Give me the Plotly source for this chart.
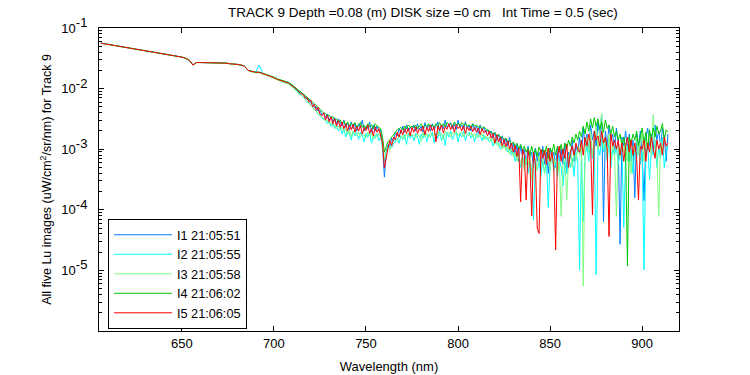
import plotly.graph_objects as go

# Wavelength grids (nm)
wl_head = list(range(606, 688, 2))                          # 606..686, shared smooth part
wl_body = list(range(688, 716, 2)) + list(range(716, 915))  # 688..714 (2 nm), 716..914 (1 nm)

# log10(Lu) where the five images overlap (606..686 nm)
lu_head_log10 = [-1.25, -1.26, -1.27, -1.28, -1.30, -1.31, -1.32, -1.33, -1.34, -1.35,
                 -1.36, -1.37, -1.38, -1.38, -1.39, -1.40, -1.42, -1.43, -1.44, -1.45,
                 -1.46, -1.47, -1.48, -1.50, -1.53, -1.61, -1.57, -1.57, -1.57, -1.57,
                 -1.575, -1.58, -1.58, -1.58, -1.58, -1.59, -1.59, -1.60, -1.61, -1.63,
                 -1.70]

# log10(Lu) per image on wl_body
i1_log10 = [-1.72, -1.73, -1.73, -1.75, -1.77, -1.79, -1.82, -1.85, -1.87, -1.89, -1.90, -1.95, -2.01, -2.05,
            -2.09, -2.13, -2.18, -2.18, -2.24, -2.25, -2.31, -2.30, -2.37, -2.36,
            -2.43, -2.41, -2.48, -2.42, -2.52, -2.46, -2.55, -2.48, -2.58, -2.50,
            -2.56, -2.62, -2.52, -2.64, -2.56, -2.68, -2.55, -2.66, -2.58, -2.70,
            -2.58, -2.64, -2.52, -2.70, -2.62, -2.66, -2.55, -2.72, -2.60, -2.70,
            -2.62, -2.70, -2.68, -2.95, -3.46, -3.05, -2.92, -2.95, -2.82, -2.86,
            -2.72, -2.78, -2.66, -2.74, -2.62, -2.72, -2.60, -2.70, -2.64, -2.68,
            -2.60, -2.70, -2.58, -2.68, -2.62, -2.72, -2.56, -2.66, -2.60, -2.70,
            -2.58, -2.68, -2.62, -2.55, -2.70, -2.60, -2.66, -2.52, -2.64, -2.62,
            -2.56, -2.66, -2.58, -2.68, -2.52, -2.64, -2.60, -2.67, -2.55, -2.66,
            -2.60, -2.70, -2.58, -2.68, -2.62, -2.74, -2.60, -2.70, -2.64, -2.72,
            -2.68, -2.76, -2.70, -2.82, -2.72, -2.86, -2.75, -2.90, -2.78, -2.92,
            -2.82, -2.95, -2.80, -3.05, -2.90, -3.10, -2.92, -3.20, -2.95, -3.10,
            -3.00, -3.25, -2.95, -3.15, -3.05, -3.30, -2.98, -3.20, -3.05, -3.35,
            -2.95, -3.25, -3.05, -3.40, -2.98, -3.15, -3.05, -3.30, -2.95, -3.20,
            -3.00, -3.25, -2.90, -3.40, -3.05, -3.15, -2.85, -3.20, -2.95, -3.05,
            -2.80, -3.10, -2.65, -2.95, -2.75, -3.05, -2.60, -2.85, -2.70, -2.95,
            -2.55, -2.80, -2.42, -4.20, -2.70, -2.95, -2.60, -2.85, -2.75, -3.05,
            -2.65, -2.90, -4.57, -2.80, -2.95, -2.70, -3.00, -2.75, -3.20, -2.85,
            -3.80, -2.75, -2.95, -2.70, -3.10, -3.85, -2.80, -2.65, -2.95, -2.75,
            -3.05, -2.60, -2.85, -2.70, -2.95, -2.65, -2.80, -3.20, -2.75]

i2_log10 = [-1.72, -1.73, -1.61, -1.75, -1.77, -1.79, -1.82, -1.85, -1.87, -1.89, -1.92, -1.97, -2.03, -2.09,
            -2.15, -2.17, -2.22, -2.23, -2.28, -2.30, -2.35, -2.37, -2.42, -2.44,
            -2.47, -2.52, -2.50, -2.58, -2.54, -2.62, -2.57, -2.66, -2.60, -2.70,
            -2.64, -2.75, -2.66, -2.80, -2.68, -2.74, -2.85, -2.70, -2.78, -2.72,
            -2.84, -2.72, -2.78, -2.88, -2.74, -2.80, -2.72, -2.90, -2.76, -2.82,
            -2.74, -2.86, -2.80, -2.98, -3.20, -3.05, -3.00, -2.95, -2.98, -2.90,
            -2.88, -2.82, -2.90, -2.78, -2.84, -2.76, -2.92, -2.74, -2.82, -2.76,
            -2.86, -2.74, -2.80, -2.92, -2.75, -2.82, -2.72, -2.88, -2.76, -2.80,
            -2.72, -2.90, -2.74, -2.82, -2.70, -2.86, -2.76, -2.94, -2.72, -2.80,
            -2.70, -2.84, -2.76, -2.72, -2.88, -2.74, -2.80, -2.70, -2.86, -2.76,
            -2.72, -2.82, -2.76, -2.88, -2.74, -2.80, -2.78, -2.86, -2.76, -2.84,
            -2.80, -2.88, -2.84, -2.95, -2.86, -2.92, -2.90, -3.00, -2.94, -2.98,
            -2.96, -3.05, -3.00, -3.10, -3.02, -3.20, -3.08, -3.15, -3.30, -3.10,
            -3.25, -3.15, -3.40, -3.20, -3.30, -4.16, -3.15, -3.35, -3.20, -3.45,
            -3.20, -3.40, -3.15, -3.96, -3.25, -3.10, -3.35, -3.20, -3.45, -3.15,
            -3.30, -3.60, -3.20, -3.40, -3.10, -3.30, -3.15, -3.45, -3.05, -3.20,
            -4.99, -3.00, -4.20, -3.10, -2.95, -3.20, -2.90, -3.15, -2.85, -5.07,
            -2.95, -3.10, -2.80, -3.05, -2.90, -3.20, -2.85, -3.30, -3.00, -3.10,
            -2.95, -3.25, -3.05, -2.90, -4.29, -3.10, -2.95, -3.20, -3.00, -3.40,
            -3.00, -3.15, -2.90, -3.25, -3.05, -4.99, -3.10, -2.90, -3.50, -3.00,
            -3.10, -2.85, -3.30, -2.95, -3.15, -2.80, -3.30, -3.05, -2.95]

i3_log10 = [-1.73, -1.74, -1.74, -1.76, -1.78, -1.80, -1.83, -1.86, -1.88, -1.90, -1.93, -1.98, -2.04, -2.10,
            -2.13, -2.18, -2.20, -2.25, -2.27, -2.31, -2.34, -2.38, -2.40, -2.45,
            -2.46, -2.50, -2.53, -2.52, -2.58, -2.56, -2.62, -2.60, -2.66, -2.62,
            -2.68, -2.64, -2.72, -2.66, -2.76, -2.68, -2.80, -2.70, -2.74, -2.78,
            -2.72, -2.80, -2.74, -2.76, -2.82, -2.72, -2.78, -2.74, -2.84, -2.76,
            -2.80, -2.74, -2.82, -2.92, -3.15, -3.08, -2.96, -3.02, -2.92, -2.88,
            -2.84, -2.86, -2.78, -2.82, -2.76, -2.84, -2.74, -2.80, -2.72, -2.78,
            -2.76, -2.82, -2.74, -2.78, -2.86, -2.72, -2.80, -2.74, -2.82, -2.72,
            -2.78, -2.74, -2.82, -2.70, -2.78, -2.74, -2.84, -2.70, -2.76, -2.72,
            -2.80, -2.72, -2.76, -2.70, -2.78, -2.74, -2.72, -2.80, -2.70, -2.76,
            -2.78, -2.72, -2.80, -2.74, -2.82, -2.76, -2.80, -2.74, -2.84, -2.78,
            -2.84, -2.80, -2.88, -2.82, -2.92, -2.86, -2.96, -2.90, -3.00, -2.92,
            -3.02, -2.96, -3.08, -3.00, -3.12, -3.05, -3.20, -3.08, -3.25, -3.12,
            -3.35, -3.15, -3.30, -3.10, -3.50, -3.20, -3.15, -3.35, -3.10, -3.30,
            -3.15, -3.40, -3.20, -3.10, -3.35, -3.05, -3.25, -3.15, -3.40, -3.20,
            -4.11, -3.25, -3.10, -3.84, -3.20, -3.00, -3.30, -3.05, -3.20, -2.95,
            -3.10, -2.90, -5.26, -3.00, -2.80, -3.05, -2.70, -3.10, -2.85, -2.60,
            -3.00, -2.75, -2.41, -3.00, -2.80, -3.10, -2.75, -3.20, -2.90, -3.05,
            -4.11, -2.95, -3.15, -2.85, -3.05, -2.90, -3.20, -2.80, -3.40, -2.95,
            -3.05, -2.80, -3.10, -2.90, -2.75, -3.20, -2.85, -3.00, -2.70, -3.10,
            -2.43, -2.95, -3.10, -4.11, -2.85, -3.05, -2.80, -2.95, -2.90]

i4_log10 = [-1.72, -1.73, -1.73, -1.75, -1.76, -1.78, -1.81, -1.84, -1.86, -1.88, -1.90, -1.94, -1.99, -2.03,
            -2.08, -2.11, -2.14, -2.17, -2.19, -2.22, -2.25, -2.28, -2.30, -2.33,
            -2.36, -2.40, -2.41, -2.44, -2.44, -2.48, -2.46, -2.52, -2.50, -2.55,
            -2.52, -2.58, -2.54, -2.60, -2.55, -2.62, -2.57, -2.60, -2.56, -2.64,
            -2.60, -2.56, -2.64, -2.60, -2.66, -2.58, -2.63, -2.60, -2.66, -2.58,
            -2.62, -2.64, -2.66, -2.80, -3.05, -2.96, -2.88, -2.84, -2.80, -2.76,
            -2.70, -2.68, -2.66, -2.64, -2.68, -2.62, -2.66, -2.60, -2.64, -2.62,
            -2.64, -2.60, -2.66, -2.62, -2.58, -2.64, -2.60, -2.63, -2.58, -2.62,
            -2.60, -2.64, -2.58, -2.62, -2.56, -2.62, -2.58, -2.63, -2.56, -2.60,
            -2.58, -2.62, -2.55, -2.60, -2.57, -2.62, -2.56, -2.60, -2.58, -2.62,
            -2.60, -2.63, -2.58, -2.62, -2.60, -2.64, -2.62, -2.66, -2.63, -2.66,
            -2.68, -2.70, -2.72, -2.74, -2.73, -2.78, -2.76, -2.80, -2.80, -2.84,
            -2.82, -2.88, -2.85, -2.92, -2.88, -2.95, -2.90, -3.00, -2.92, -3.02,
            -2.95, -3.05, -2.98, -3.10, -2.95, -3.08, -3.00, -3.12, -2.96, -3.05,
            -3.00, -3.10, -2.95, -3.15, -2.98, -3.05, -2.92, -3.10, -2.95, -3.05,
            -2.92, -3.08, -2.90, -3.00, -2.85, -2.95, -2.80, -2.90, -2.75, -2.85,
            -2.70, -2.80, -2.62, -2.75, -2.55, -2.70, -2.50, -2.65, -2.48, -2.62,
            -2.50, -2.68, -2.55, -2.72, -2.52, -2.66, -2.60, -2.75, -2.62, -2.80,
            -2.70, -2.85, -2.75, -2.95, -2.80, -3.00, -4.93, -2.80, -2.90, -2.75,
            -2.85, -2.70, -2.95, -2.78, -2.65, -2.90, -2.72, -3.00, -2.68, -2.85,
            -2.65, -2.80, -2.62, -2.75, -2.70, -2.58, -2.85, -2.68, -2.72]

i5_log10 = [-1.72, -1.73, -1.73, -1.75, -1.77, -1.79, -1.82, -1.85, -1.87, -1.89, -1.91, -1.96, -2.00, -2.07,
            -2.10, -2.16, -2.15, -2.22, -2.19, -2.30, -2.26, -2.36, -2.31, -2.42,
            -2.45, -2.40, -2.52, -2.44, -2.55, -2.47, -2.58, -2.50, -2.62, -2.53,
            -2.64, -2.55, -2.66, -2.58, -2.70, -2.60, -2.68, -2.59, -2.72, -2.62,
            -2.70, -2.61, -2.75, -2.64, -2.69, -2.60, -2.74, -2.66, -2.78, -2.63,
            -2.72, -2.66, -2.76, -2.90, -3.31, -3.12, -2.98, -2.86, -2.94, -2.80,
            -2.84, -2.72, -2.80, -2.68, -2.76, -2.66, -2.74, -2.65, -2.78, -2.64,
            -2.72, -2.63, -2.74, -2.66, -2.70, -2.62, -2.76, -2.64, -2.71, -2.60,
            -2.70, -2.63, -2.88, -2.62, -2.69, -2.60, -2.73, -2.63, -2.67, -2.58,
            -2.68, -2.60, -2.72, -2.59, -2.66, -2.62, -2.70, -2.61, -2.74, -2.63,
            -2.69, -2.62, -2.71, -2.64, -2.72, -2.65, -2.76, -2.66, -2.73, -2.69,
            -2.78, -2.70, -2.82, -2.74, -2.90, -2.76, -2.88, -2.80, -2.95, -2.84,
            -2.96, -2.86, -3.00, -2.90, -3.05, -2.94, -3.12, -2.98, -3.87, -3.00,
            -3.10, -3.84, -3.02, -3.20, -4.10, -3.05, -3.25, -4.30, -4.39, -3.00,
            -3.15, -3.02, -3.25, -2.98, -3.20, -3.05, -3.30, -4.66, -3.10, -2.95,
            -3.20, -3.00, -3.15, -2.92, -3.30, -3.05, -2.95, -3.10, -2.90, -3.00,
            -3.05, -2.85, -3.10, -2.80, -2.95, -2.75, -2.90, -4.08, -2.70, -2.85,
            -2.78, -2.95, -2.70, -2.90, -2.80, -3.00, -4.44, -2.75, -2.95, -2.85,
            -3.00, -2.85, -3.10, -2.90, -3.20, -2.95, -2.80, -3.05, -2.85, -3.10,
            -2.90, -3.15, -3.84, -2.95, -3.00, -2.85, -3.20, -2.90, -3.05, -2.80,
            -2.95, -3.15, -2.85, -3.00, -2.90, -3.10, -2.80, -2.95, -2.90]

series_names = ["I1 21:05:51", "I2 21:05:55", "I3 21:05:58", "I4 21:06:02", "I5 21:06:05"]
series_colors = ["#0080ff", "#00ffff", "#80ff80", "#00c800", "#ff0000"]
series_body = [i1_log10, i2_log10, i3_log10, i4_log10, i5_log10]

x_ticks = [650, 700, 750, 800, 850, 900]
y_tick_exps = [-1, -2, -3, -4, -5]

FONT = "Liberation Sans, Arial, Helvetica, sans-serif"

wavelength = wl_head + wl_body
fig = go.Figure()
for name, color, body in zip(series_names, series_colors, series_body):
    logs = lu_head_log10 + body
    fig.add_trace(go.Scatter(
        x=wavelength, y=[10 ** v for v in logs], mode="lines", name=name,
        line=dict(color=color, width=1),
    ))

minor_vals = [m * 10.0 ** e for e in range(-6, -1) for m in range(2, 10)]

fig.update_layout(
    width=750, height=375,
    margin=dict(l=99, r=71, t=28, b=44, autoexpand=False),
    paper_bgcolor="white", plot_bgcolor="white",
    font=dict(family=FONT, size=13, color="black"),
    title=dict(
        text="TRACK 9 Depth =0.08 (m) DISK size =0 cm\u00a0\u00a0\u00a0Int Time = 0.5 (sec)",
        x=(423 - 99) / 580, xref="paper", xanchor="center",
        y=1 - 12 / 375, yref="container", yanchor="middle",
        font=dict(family=FONT, size=13.5, color="black"),
    ),
    xaxis=dict(
        range=[605, 920], tickvals=x_ticks, ticks="inside", ticklen=5,
        tickcolor="black", showline=True, linecolor="black", linewidth=1,
        mirror="ticks", showgrid=False, zeroline=False, automargin=False,
        title=dict(text="Wavelength (nm)", standoff=12, font=dict(size=13)),
        tickfont=dict(size=13),
    ),
    yaxis=dict(
        type="log", range=[-6, -1],
        tickvals=[10.0 ** e for e in y_tick_exps],
        ticktext=['10<sup><span style="font-size:13px">%d</span></sup>' % e for e in y_tick_exps],
        ticks="inside", ticklen=5, tickcolor="black", ticklabelstandoff=8,
        showline=True, linecolor="black", linewidth=1, mirror="ticks",
        showgrid=False, zeroline=False, automargin=False,
        minor=dict(tickvals=minor_vals, ticks="inside", ticklen=3, tickcolor="black", showgrid=False),
        title=dict(text="All five Lu images (uW/cm<sup>2</sup>/sr/nm) for Track 9", standoff=6,
                   font=dict(size=12.5)),
        tickfont=dict(size=13),
    ),
    legend=dict(
        x=(108 - 99) / 580, y=(331 - 219) / 303, xanchor="left", yanchor="top",
        bgcolor="white", bordercolor="black", borderwidth=1,
        font=dict(size=12.7), itemwidth=58, tracegroupgap=0, entrywidth=134,
    ),
)

fig.write_html("out.html", config={"displayModeBar": False},
               post_script="document.body.style.margin='0';document.body.style.padding='0';")
